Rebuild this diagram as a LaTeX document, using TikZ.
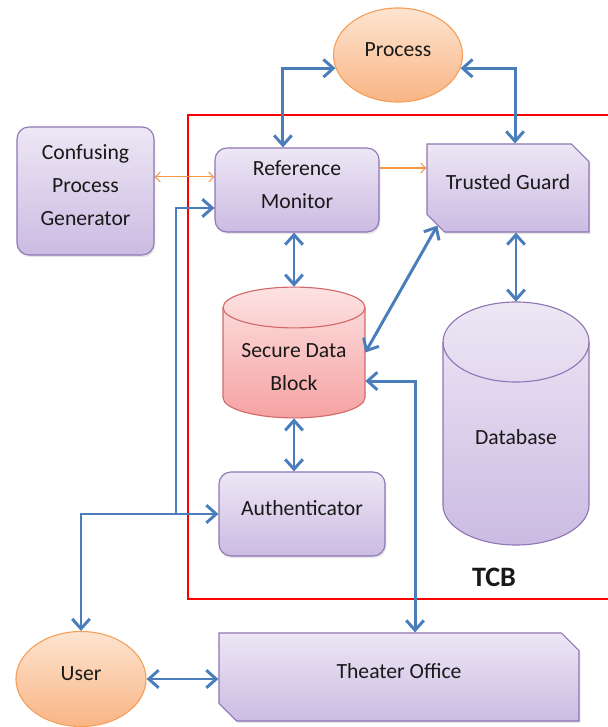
\documentclass[tikz,border=0pt]{standalone}
\usepackage{fontspec}
\setmainfont{Carlito}
\usepackage{tikz}
\usetikzlibrary{positioning}
\usetikzlibrary{arrows.meta,shapes.geometric,shapes.misc,shadows}

\definecolor{boxline}{HTML}{8F76B5}
\definecolor{boxtop}{HTML}{EDE7F5}
\definecolor{boxbot}{HTML}{CBBBE2}
\definecolor{ovalline}{HTML}{F5A05A}
\definecolor{ovaltop}{HTML}{FDE4D0}
\definecolor{ovalbot}{HTML}{F9B585}
\definecolor{hintline}{HTML}{F79646}
\definecolor{sdbline}{HTML}{D2696A}
\definecolor{sdbtop}{HTML}{FDE2E2}
\definecolor{sdbbot}{HTML}{F6A2A2}
\definecolor{linkblue}{HTML}{4A7EBB}

\begin{document}
\begin{tikzpicture}[x=0.025cm,y=-0.025cm,>={Straight Barb[length=7pt,width=12.5pt]},
  every node/.style={font=\fontsize{15.4}{23.5}\selectfont,text=black!90},
  box/.style={draw=boxline,line width=0.8pt,top color=boxtop,bottom color=boxbot,
    rounded corners=0.3cm,align=center,inner sep=0pt,text depth=0.8em,
    drop shadow={opacity=0.2,shadow xshift=1pt,shadow yshift=-1.5pt}},
  snipbox/.style={box,sharp corners,chamfered rectangle,
    chamfered rectangle corners={north east,south west},chamfered rectangle xsep=0.33cm},
  oval/.style={ellipse,draw=ovalline,line width=0.8pt,top color=ovaltop,bottom color=ovalbot,
    inner sep=0pt,text depth=0.8em},
  drum/.style={inner sep=0pt,align=center,text depth=0pt},
  drumline/.style={line width=0.8pt},
  link/.style={<->,draw=linkblue,line width=2.1pt},
  hint/.style={draw=hintline,line width=0.8pt,>={Straight Barb[length=3.5pt,width=7pt]}}]
  \useasboundingbox (0,0) rectangle (607,727);

  % cylinders, drawn by hand
  \path[drumline,draw=sdbline,top color=sdbtop,bottom color=sdbbot]
    (223,307.5) arc[start angle=180,end angle=0,x radius=1.775cm,y radius=0.51cm]
    -- (365,397.5) arc[start angle=0,end angle=-180,x radius=1.775cm,y radius=0.51cm] -- cycle;
  \draw[drumline,sdbline] (223,307.5) arc[start angle=180,end angle=360,x radius=1.775cm,y radius=0.51cm];
  \path[drumline,draw=boxline,top color=boxtop,bottom color=boxbot]
    (443,342) arc[start angle=180,end angle=0,x radius=1.825cm,y radius=1cm]
    -- (589,505) arc[start angle=0,end angle=-180,x radius=1.825cm,y radius=1cm] -- cycle;
  \draw[drumline,boxline] (443,342) arc[start angle=180,end angle=360,x radius=1.825cm,y radius=1cm];

  \node[oval,minimum width=3.225cm,minimum height=2.35cm] (proc) at (398,55) {Process};
  \node[box,minimum width=3.425cm,minimum height=3.2cm] (cpg) at (85.5,191) {Confusing\\Process\\Generator};
  \node[box,minimum width=4.1cm,minimum height=2.1cm] (rm) at (297,190) {Reference\\Monitor};
  \node[snipbox,minimum width=4.05cm,minimum height=2.2cm] (tg) at (508,188) {Trusted Guard};
  \node[drum,minimum width=3.55cm,minimum height=3.275cm,text height=54pt] (sdb) at (294,352.5) {Secure Data\\Block};
  \node[drum,minimum width=3.65cm,minimum height=6.075cm,text height=30pt] (db) at (516,423.5) {Database};
  \node[box,minimum width=4.15cm,minimum height=2.1cm] (auth) at (302,514) {Authenticator};
  \node[oval,minimum width=3.25cm,minimum height=2.375cm] (user) at (81,679) {User};
  \node[snipbox,minimum width=9cm,minimum height=2.2cm] (office) at (399,677) {Theater Office};

  % trusted computing base
  \draw[red,line width=2pt] (188,115) rectangle (620,599);
  \node[font=\fontsize{20}{24}\selectfont\bfseries] (tcb) at (494,577) {TCB};

  % process links
  \draw[link] ([xshift=-10pt]rm.north) |- (proc.192);
  \draw[link] ([xshift=5pt]tg.north) |- (proc.348);

  % orange hints
  \draw[hint,<->] ([yshift=10pt]cpg.east) -- ([yshift=10pt]cpg.east -| rm.west);
  \draw[hint,->] ([yshift=15.6pt]rm.east) -- ([yshift=15.6pt]rm.east -| tg.west);

  % user side
  \coordinate (turn) at (176,514);
  \draw[link] (user.north) |- (auth.west);
  \draw[link,-] (turn) |- ([yshift=-12.8pt]rm.west);
  \draw[link,->] ([yshift=-12.8pt]turn |- rm.west) -- ([yshift=-12.8pt]rm.west);
  \draw[link] (user.east) -- (user.east -| office.west);

  % data links
  \draw[link] (sdb.north |- rm.south) -- (sdb.north);
  \draw[link] (sdb.south) -- (sdb.south |- auth.north);
  \draw[link] (sdb.east) -- (tg.208);
  \draw[link] ([yshift=-20.3pt]sdb.east) -| ([xshift=11.4pt]office.north);
  \draw[link] (db.north |- tg.south) -- (db.north);
\end{tikzpicture}
\end{document}
